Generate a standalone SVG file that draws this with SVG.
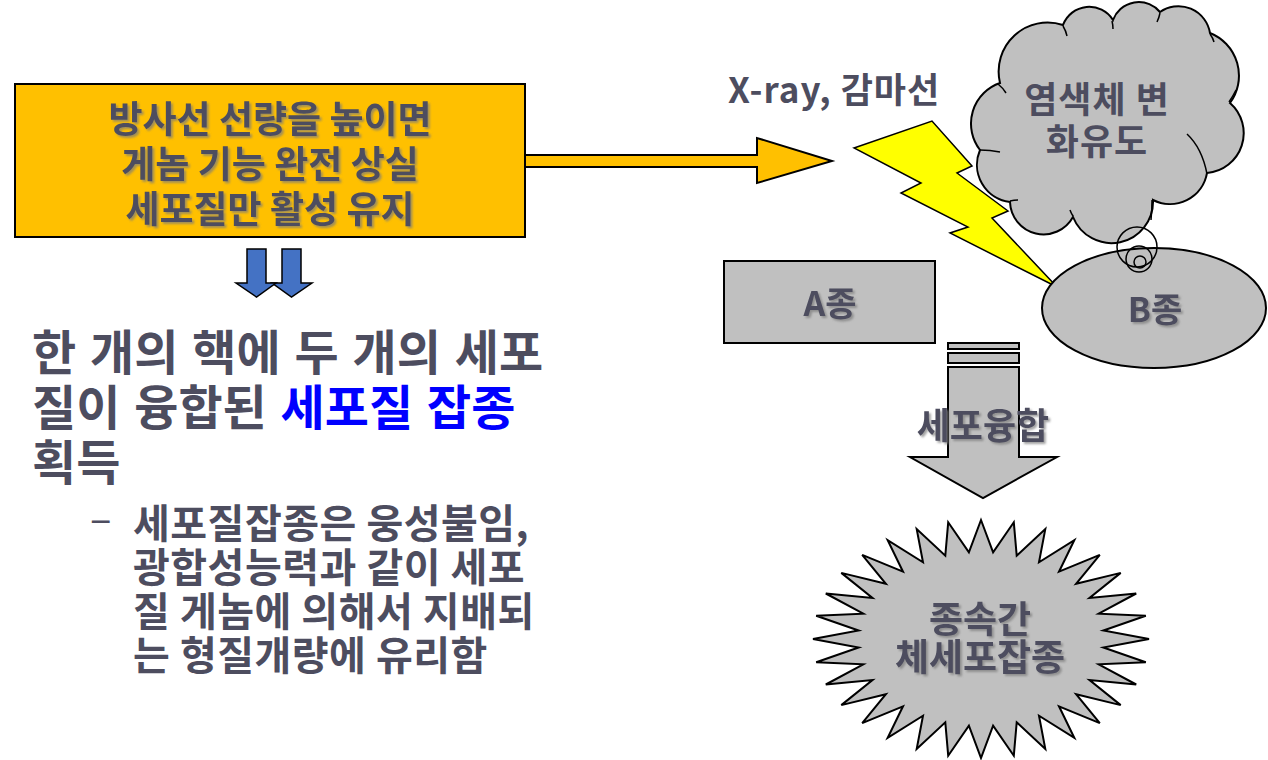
<svg xmlns="http://www.w3.org/2000/svg" width="1268" height="760" viewBox="0 0 1268 760">
<style>
.t{font-family:"Noto Sans CJK KR","Noto Sans",sans-serif;font-weight:700;fill:#4D4D5F}
.sh{filter:url(#shadow)}
.gray{fill:#C0C0C0;stroke:#000;stroke-width:2}
.ln{fill:none;stroke:#000;stroke-width:1.5}
</style>
<defs>
<filter id="shadow" x="-10%" y="-20%" width="120%" height="150%">
<feDropShadow dx="2" dy="2" stdDeviation="1" flood-color="#7a7a7a" flood-opacity="0.7"/>
</filter>
</defs>
<rect width="1268" height="760" fill="#fff"/>

<g id="connectors">
<polygon points="525,155 757,155 757,138 832,161 757,183 757,167 525,167" fill="#FFC000" stroke="#000" stroke-width="2"/>
<polygon points="282,249 301,249 301,283 312,283 291.5,297 272,283 282,283" fill="#4472C4" stroke="#000" stroke-width="1.5"/>
<polygon points="247,249 266,249 266,283 276,283 256.5,297 236,283 247,283" fill="#4472C4" stroke="#000" stroke-width="1.5"/>
<g id="fusion-arrow">
<rect x="948" y="343" width="71" height="6" class="gray" stroke-width="1.5"/>
<rect x="948" y="353" width="71" height="10" class="gray" stroke-width="1.5"/>
<polygon points="948,367 1019,367 1019,457 1057,457 983,498 910,457 948,457" class="gray" stroke-width="1.5"/>
<text x="983" y="439" text-anchor="middle" font-size="36" class="t sh">세포융합</text>
</g>
</g>

<g id="box-radiation">
<rect x="15" y="84" width="510" height="153" fill="#FFC000" stroke="#000" stroke-width="2"/>
<g class="t sh" font-size="37" text-anchor="middle">
<text x="270" y="133">방사선 선량을 높이면</text>
<text x="270" y="178">게놈 기능 완전 상실</text>
<text x="270" y="223">세포질만 활성 유지</text>
</g>
</g>

<g id="bullets" class="t">
<text x="32" y="370" font-size="48" word-spacing="3">한 개의 핵에 두 개의 세포</text>
<text x="32" y="425" font-size="48" word-spacing="3">질이 융합된 <tspan fill="#0000FF">세포질 잡종</tspan></text>
<text x="32" y="480" font-size="48">획득</text>
<text x="90" y="533" font-size="40" font-weight="400">–</text>
<g font-size="40" letter-spacing="0.5">
<text x="133" y="538">세포질잡종은 웅성불임,</text>
<text x="133" y="582">광합성능력과 같이 세포</text>
<text x="133" y="626">질 게놈에 의해서 지배되</text>
<text x="133" y="670">는 형질개량에 유리함</text>
</g>
</g>

<g id="xray-label">
<text x="728" y="103" font-size="35" letter-spacing="1" class="t">X-ray, 감마선</text>
</g>

<g id="lightning">
<polygon points="854,148 932,121 972,166 957,173 1008,211 992,218 1057,287 950,233 968,227 901,193 921,183" fill="#FFFF00" stroke="#000" stroke-width="1.5"/>
</g>

<g id="cloud">
<path d="M1000,83 A49,49 0 0 1 1063,25 A28,28 0 0 1 1113,20 A27.6,27.6 0 0 1 1160,12 A32,32 0 0 1 1210,33 A46,46 0 0 1 1230,103 A40,40 0 0 1 1207,173 A37.5,37.5 0 0 1 1153,200 A41.5,41.5 0 0 1 1073,217 A33.6,33.6 0 0 1 1010,202 A37.5,37.5 0 0 1 980,150 A43,43 0 0 1 1000,83 Z" class="gray"/>
<path class="ln" d="M998,84 Q1003,88 1006,93 M1063,26 Q1066,31 1067,36 M1112,21 Q1113,25 1113,29 M1160,13 Q1159,18 1157,22 M1210,34 Q1213,38 1214,42 M1229,102 Q1233,96 1236,90 M1187,134 Q1202,148 1207,174 M1152,200 Q1152,210 1151,220 M1073,216 Q1071,213 1070,210 M1010,201 Q1014,200 1018,200 M980,150 Q990,150 1000,152"/>
<text x="1097" y="113" text-anchor="middle" font-size="36" letter-spacing="1" class="t">염색체 변</text>
<text x="1097" y="155" text-anchor="middle" font-size="36" letter-spacing="1" class="t">화유도</text>
</g>

<g id="node-b">
<ellipse cx="1154" cy="308" rx="112" ry="60" class="gray"/>
<text x="1155" y="322" text-anchor="middle" font-size="34" class="t sh">B종</text>
</g>

<g id="thought-circles">
<circle cx="1137" cy="247" r="20" class="ln"/>
<circle cx="1139" cy="259" r="13" class="ln"/>
<circle cx="1140" cy="262" r="6" class="ln"/>
</g>

<g id="node-a">
<rect x="724" y="261" width="211" height="82" class="gray"/>
<text x="830" y="316" text-anchor="middle" font-size="34" class="t sh">A종</text>
</g>

<g id="starburst">
<polygon class="gray" points="981,520 993.1,552.4 1013.8,522.3 1016.7,555.7 1045.3,529.1 1039,562.3 1074.3,540.1 1059,571.7 1099.8,554.9 1076.1,583.8 1120.7,572.9 1089.5,598 1136.2,593.5 1098.7,613.7 1145.8,615.8 1103.4,630.5 1149,639 1103.4,647.5 1145.8,662.2 1098.7,664.3 1136.2,684.5 1089.5,680 1120.7,705.1 1076.1,694.2 1099.8,723.1 1059,706.3 1074.3,737.9 1039,715.7 1045.3,748.9 1016.7,722.3 1013.8,755.7 993.1,725.6 981,758 968.9,725.6 948.2,755.7 945.3,722.3 916.7,748.9 923,715.7 887.7,737.9 903,706.3 862.2,723.1 885.9,694.2 841.3,705.1 872.5,680 825.8,684.5 863.3,664.3 816.2,662.2 858.6,647.5 813,639 858.6,630.5 816.2,615.8 863.3,613.7 825.8,593.5 872.5,598 841.3,572.9 885.9,583.8 862.2,554.9 903,571.7 887.7,540.1 923,562.3 916.7,529.1 945.3,555.7 948.2,522.3 968.9,552.4"/>
<text x="980" y="633" text-anchor="middle" font-size="37" class="t sh">종속간</text>
<text x="980" y="671" text-anchor="middle" font-size="37" class="t sh">체세포잡종</text>
</g>
</svg>
